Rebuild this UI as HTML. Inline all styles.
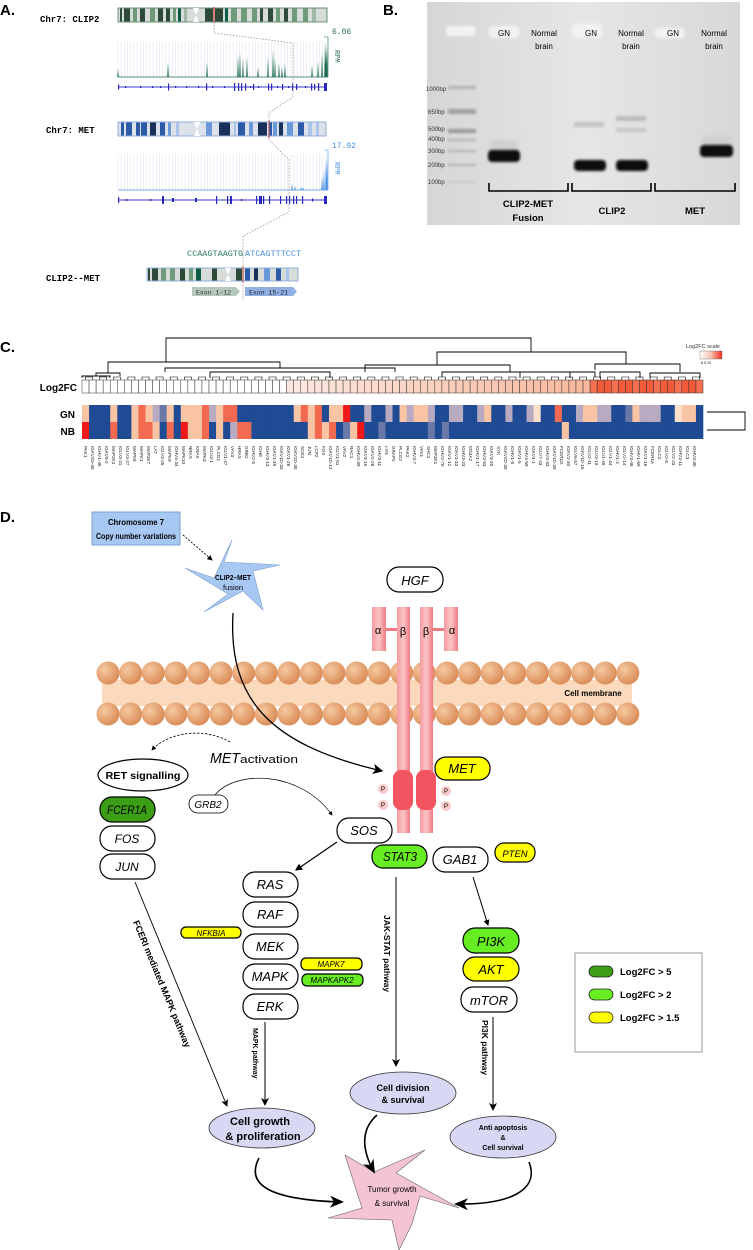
<!DOCTYPE html>
<html><head><meta charset="utf-8"><style>
html,body{margin:0;padding:0;background:#fff;}
svg{display:block;font-family:"Liberation Sans",sans-serif;}
.mono{font-family:"Liberation Mono",monospace;}
</style></head><body>
<svg id="s" width="753" height="1250" viewBox="0 0 753 1250" xmlns="http://www.w3.org/2000/svg">
<defs>
<radialGradient id="sph" cx="0.35" cy="0.35" r="0.7"><stop offset="0" stop-color="#f6c9a0"/><stop offset="1" stop-color="#d98a55"/></radialGradient>
<linearGradient id="beta" x1="0" x2="1"><stop offset="0" stop-color="#f59aa0"/><stop offset="0.5" stop-color="#fbc4c6"/><stop offset="1" stop-color="#f07a82"/></linearGradient>
<linearGradient id="gel" x1="0" x2="1"><stop offset="0" stop-color="#d6d6d6"/><stop offset="0.5" stop-color="#e6e6e6"/><stop offset="1" stop-color="#d8d8d8"/></linearGradient>
<linearGradient id="scl" x1="0" x2="1"><stop offset="0" stop-color="#fff"/><stop offset="0.5" stop-color="#f9c0b0"/><stop offset="1" stop-color="#f03020"/></linearGradient>
<filter id="blur" x="-30%" y="-80%" width="160%" height="260%"><feGaussianBlur stdDeviation="1.3"/></filter>
<filter id="blur2" x="-30%" y="-80%" width="160%" height="260%"><feGaussianBlur stdDeviation="2.5"/></filter>
<marker id="ah" markerWidth="8" markerHeight="8" refX="7" refY="4" orient="auto"><path d="M0,0 L8,4 L0,8 L2,4z" fill="#000"/></marker>
<marker id="ahs" markerWidth="6" markerHeight="6" refX="5" refY="3" orient="auto"><path d="M0,0 L6,3 L0,6z" fill="#000"/></marker>
<marker id="big" markerWidth="14" markerHeight="12" refX="12" refY="6" orient="auto" markerUnits="userSpaceOnUse"><path d="M0,0 L14,6 L0,12 L4,6z" fill="#000"/></marker>
</defs>

<!-- ===== Panel A ===== -->
<text x="0" y="15" font-size="15" font-weight="bold">A.</text>
<text x="40" y="22" class="mono" font-size="9" font-weight="bold">Chr7: CLIP2</text>
<g id="chrA"></g>
<text x="46" y="133" class="mono" font-size="9" font-weight="bold">Chr7: MET</text>
<text x="46" y="281" class="mono" font-size="9" font-weight="bold">CLIP2--MET</text>
<polyline points="214,22 214,33 293,43 293,97 269,113 269,140 289,160 289,212 243,236 243,300" fill="none" stroke="#888" stroke-width="0.7" stroke-dasharray="1.5,1.5"/>
<text x="332" y="34" class="mono" font-size="8" fill="#2e6e50">6.06</text>
<text x="335" y="50" class="mono" font-size="7" fill="#2e6e50" transform="rotate(90 335 50)">RPM</text>
<text x="332" y="148" class="mono" font-size="8" fill="#4a90e2">17.92</text>
<text x="335" y="162" class="mono" font-size="7" fill="#4a90e2" transform="rotate(90 335 162)">RPM</text>
<text x="187" y="256" class="mono" font-size="8.5" fill="#2e7d5e">CCAAGTAAGTG</text>
<text x="245" y="256" class="mono" font-size="8.5" fill="#4a90e2">ATCAGTTTCCT</text>
<polygon points="192,287 236,287 240,291.5 236,296 192,296" fill="#b4c8be"/>
<polygon points="245,287 293,287 297,291.5 293,296 245,296" fill="#8fb0e0"/>
<text x="196" y="294.5" class="mono" font-size="6.5" fill="#333">Exon 1-12</text>
<text x="249" y="294.5" class="mono" font-size="6.5" fill="#223">Exon 15-21</text>

<!-- ===== Panel B ===== -->
<text x="383" y="15" font-size="15" font-weight="bold">B.</text>
<rect x="427" y="2" width="313" height="223" fill="url(#gel)"/>
<g fill="#f2f2f2" filter="url(#blur)">
<rect x="446" y="26" width="30" height="10" rx="4"/><rect x="489" y="26" width="30" height="12" rx="4"/><rect x="572" y="24" width="30" height="14" rx="4"/><rect x="655" y="28" width="30" height="10" rx="4"/>
</g>
<g font-size="8" fill="#000" text-anchor="middle">
<text x="504" y="36">GN</text><text x="544" y="36">Normal</text><text x="544" y="49">brain</text>
<text x="591" y="36">GN</text><text x="631" y="36">Normal</text><text x="631" y="49">brain</text>
<text x="673" y="36">GN</text><text x="714" y="36">Normal</text><text x="714" y="49">brain</text>
</g>
<g font-size="6" fill="#333">
<text x="426" y="91">1000bp</text><text x="428" y="114">650bp</text><text x="428" y="131">500bp</text>
<text x="428" y="141">400bp</text><text x="428" y="153">300bp</text><text x="428" y="167">200bp</text><text x="428" y="184">100bp</text>
</g>
<g fill="#b0b0b0" filter="url(#blur)">
<rect x="448" y="86" width="28" height="3"/><rect x="448" y="109" width="28" height="5" fill="#a0a0a0"/><rect x="448" y="129" width="28" height="4" fill="#989898"/>
<rect x="448" y="139" width="28" height="2"/><rect x="448" y="150" width="28" height="2"/><rect x="448" y="164" width="28" height="2"/><rect x="448" y="181" width="28" height="2" fill="#c8c8c8"/>
<rect x="574" y="122" width="30" height="5" fill="#c4c4c4"/><rect x="616" y="116" width="30" height="5" fill="#bcbcbc"/><rect x="616" y="128" width="30" height="4" fill="#c6c6c6"/>
</g>
<g filter="url(#blur2)" fill="#cfcfcf"><rect x="490" y="140" width="28" height="14"/><rect x="702" y="136" width="30" height="12"/></g>
<g filter="url(#blur)" fill="#111">
<rect x="488" y="150" width="32" height="12" rx="4"/>
<rect x="574" y="160" width="32" height="11" rx="4"/>
<rect x="616" y="160" width="32" height="11" rx="4"/>
<rect x="700" y="145" width="33" height="12" rx="4"/>
</g>
<g fill="none" stroke="#000" stroke-width="1.6">
<polyline points="489,183 489,191 568,191 568,183"/><polyline points="572,183 572,191 651,191 651,183"/><polyline points="655,183 655,191 735,191 735,183"/>
</g>
<g font-size="9.5" font-weight="bold" text-anchor="middle">
<text x="528" y="207">CLIP2-MET</text><text x="528" y="221">Fusion</text><text x="612" y="214">CLIP2</text><text x="695" y="214">MET</text>
</g>

<!-- ===== Panel C ===== -->
<text x="0" y="352" font-size="15" font-weight="bold">C.</text>
<g fill="none" stroke="#000" stroke-width="0.9">
<polyline points="166,362 166,338 531,338 531,352"/>
<polyline points="108,373 108,362 280,362 280,368"/>
<polyline points="437,365 437,352 626,352 626,364"/>
<polyline points="96,376 96,373 120,373 120,376"/>
<polyline points="165,372 165,368 395,368 395,372"/>
<polyline points="365,372 365,365 510,365 510,372"/>
<polyline points="442,377 442,372 595,372 595,377"/>
<polyline points="595,370 595,364 680,364 680,372"/>
<polyline points="82,378 82,376 110,376 110,378"/>
<polyline points="210,378 210,372 330,372 330,378"/>
<polyline points="520,378 520,372 570,372 570,378"/>
<polyline points="600,378 600,372 640,372 640,378"/>
<polyline points="650,378 650,373 700,373 700,378"/>
</g>
<g id="dendsmall" stroke="#000" stroke-width="0.6"></g>
<text x="77" y="391" font-size="10" font-weight="bold" text-anchor="end">Log2FC</text>
<text x="75" y="418" font-size="10" font-weight="bold" text-anchor="end">GN</text>
<text x="75" y="435" font-size="10" font-weight="bold" text-anchor="end">NB</text>
<g id="fc"></g><g id="hm"></g>
<polyline points="707,412 745,412 745,430 707,430" fill="none" stroke="#000" stroke-width="0.9"/>
<text x="686" y="348" font-size="5.5" fill="#333">Log2FC scale</text>
<rect x="700" y="351" width="22" height="8" fill="url(#scl)" stroke="#666" stroke-width="0.4"/>
<text x="700" y="364" font-size="3.5">-5  0  10</text>

<!-- ===== Panel D ===== -->
<text x="0" y="522" font-size="15" font-weight="bold">D.</text>
<rect x="92" y="512" width="88" height="33" fill="#a8c8f4" stroke="#7f9fd0"/>
<text x="136" y="525" font-size="8" text-anchor="middle" font-weight="bold" textLength="56" lengthAdjust="spacingAndGlyphs">Chromosome 7</text>
<text x="136" y="539" font-size="8" text-anchor="middle" font-weight="bold" textLength="80" lengthAdjust="spacingAndGlyphs">Copy number variations</text>
<line x1="183" y1="535" x2="212" y2="560" stroke="#000" stroke-width="0.9" stroke-dasharray="2,1.5" marker-end="url(#ahs)"/>
<polygon points="232,540 224,562 280,565 253,571 263,610 243,591 204,612 228,594 185,568 214,578" fill="#a8c8f4" stroke="#7f9fd0" stroke-width="0.6"/>
<text x="233" y="580" font-size="7.5" font-weight="bold" text-anchor="middle" textLength="36" lengthAdjust="spacingAndGlyphs">CLIP2–MET</text>
<text x="233" y="590" font-size="7.5" text-anchor="middle">fusion</text>

<rect x="387" y="567" width="56" height="25" rx="12" fill="#fff" stroke="#000" stroke-width="1.2"/>
<text x="415" y="585" font-size="13" font-style="italic" text-anchor="middle">HGF</text>

<rect x="102" y="680" width="530" height="26" fill="#fbd9bd"/>
<g id="mem"></g>
<text x="593" y="696" font-size="8" font-weight="bold" text-anchor="middle">Cell membrane</text>

<rect x="372" y="607" width="14" height="44" fill="url(#beta)"/>
<rect x="444" y="607" width="14" height="44" fill="url(#beta)"/>
<rect x="397" y="607" width="13" height="226" fill="url(#beta)"/>
<rect x="420" y="607" width="13" height="226" fill="url(#beta)"/>
<rect x="386" y="628" width="11" height="3" fill="#f07a82"/>
<rect x="433" y="628" width="11" height="3" fill="#f07a82"/>
<g font-size="11" text-anchor="middle"><text x="378" y="634">α</text><text x="403" y="635">β</text><text x="426" y="635">β</text><text x="452" y="634">α</text></g>
<rect x="393" y="770" width="20" height="40" rx="8" fill="#f25560"/>
<rect x="416" y="770" width="20" height="40" rx="8" fill="#f25560"/>
<g fill="#f8c8c8"><circle cx="383" cy="789" r="5"/><circle cx="383" cy="805" r="5"/><circle cx="446" cy="791" r="5"/><circle cx="446" cy="806" r="5"/></g>
<g font-size="6" text-anchor="middle"><text x="383" y="791">P</text><text x="383" y="807">P</text><text x="446" y="793">P</text><text x="446" y="808">P</text></g>

<path d="M233,613 C228,700 270,745 382,771" fill="none" stroke="#000" stroke-width="1.3" marker-end="url(#ah)"/>
<path d="M230,742 C200,725 165,735 152,750" fill="none" stroke="#000" stroke-width="0.8" stroke-dasharray="2.5,1.5" marker-end="url(#ahs)"/>
<path d="M215,795 C235,770 300,770 332,815" fill="none" stroke="#000" stroke-width="0.7" marker-end="url(#ahs)"/>
<text x="210" y="763" font-size="15" font-style="italic" textLength="30" lengthAdjust="spacingAndGlyphs">MET</text>
<text x="240" y="763" font-size="11" textLength="58" lengthAdjust="spacingAndGlyphs">activation</text>

<ellipse cx="143" cy="775" rx="45" ry="16" fill="#fff" stroke="#000" stroke-width="1.2"/>
<text x="143" y="779" font-size="10" font-weight="bold" text-anchor="middle" textLength="75" lengthAdjust="spacingAndGlyphs">RET signalling</text>

<g stroke="#000" stroke-width="1.2" font-style="italic" text-anchor="middle">
<rect x="100" y="797" width="55" height="25" rx="12" fill="#3c9e14"/>
<rect x="100" y="826" width="55" height="25" rx="12" fill="#fff"/>
<rect x="100" y="854" width="55" height="25" rx="12" fill="#fff"/>
<rect x="189" y="795" width="39" height="18" rx="9" fill="#fff" stroke-width="0.8"/>
<rect x="337" y="818" width="55" height="25" rx="12" fill="#fff"/>
<rect x="435" y="757" width="55" height="23" rx="11" fill="#ffff00"/>
<rect x="372" y="845" width="55" height="23" rx="11" fill="#66ee22"/>
<rect x="433" y="847" width="55" height="25" rx="12" fill="#fff"/>
<rect x="495" y="843" width="40" height="19" rx="9" fill="#ffff00"/>
<rect x="243" y="872" width="55" height="25" rx="12" fill="#fff"/>
<rect x="243" y="902" width="55" height="25" rx="12" fill="#fff"/>
<rect x="243" y="934" width="55" height="25" rx="12" fill="#fff"/>
<rect x="243" y="964" width="55" height="25" rx="12" fill="#fff"/>
<rect x="243" y="994" width="55" height="25" rx="12" fill="#fff"/>
<rect x="181" y="927" width="60" height="11" rx="5" fill="#ffff00"/>
<rect x="301" y="958" width="61" height="12" rx="5" fill="#ffff00"/>
<rect x="302" y="974" width="61" height="12" rx="5" fill="#66ee22"/>
<rect x="463" y="928" width="56" height="25" rx="12" fill="#66ee22"/>
<rect x="463" y="957" width="56" height="24" rx="12" fill="#ffff00"/>
<rect x="461" y="987" width="56" height="25" rx="12" fill="#fff"/>
</g>
<g font-style="italic" text-anchor="middle" font-size="12">
<text x="127" y="814" textLength="40" lengthAdjust="spacingAndGlyphs">FCER1A</text>
<text x="127" y="843">FOS</text>
<text x="127" y="871">JUN</text>
<text x="208" y="808" font-size="10">GRB2</text>
<text x="364" y="835" font-size="13">SOS</text>
<text x="462" y="773" font-size="13">MET</text>
<text x="400" y="861" font-size="13" textLength="34" lengthAdjust="spacingAndGlyphs">STAT3</text>
<text x="460" y="864" font-size="13">GAB1</text>
<text x="515" y="857" font-size="9.5">PTEN</text>
<text x="270" y="889" font-size="13">RAS</text>
<text x="270" y="919" font-size="13">RAF</text>
<text x="270" y="951" font-size="13">MEK</text>
<text x="270" y="981" font-size="13">MAPK</text>
<text x="270" y="1011" font-size="13">ERK</text>
<text x="211" y="936" font-size="8">NFKBIA</text>
<text x="331" y="967" font-size="8">MAPK7</text>
<text x="332" y="983" font-size="8">MAPKAPK2</text>
<text x="491" y="946" font-size="13">PI3K</text>
<text x="491" y="974" font-size="13">AKT</text>
<text x="489" y="1005" font-size="13">mTOR</text>
</g>

<line x1="337" y1="842" x2="296" y2="870" stroke="#000" stroke-width="1.2" marker-end="url(#ahs)"/>
<line x1="396" y1="877" x2="396" y2="1066" stroke="#000" stroke-width="1" marker-end="url(#ah)"/>
<line x1="473" y1="877" x2="488" y2="925" stroke="#000" stroke-width="1" marker-end="url(#ahs)"/>
<line x1="493" y1="1017" x2="493" y2="1110" stroke="#000" stroke-width="1" marker-end="url(#ah)"/>
<line x1="265" y1="1022" x2="265" y2="1105" stroke="#000" stroke-width="1" marker-end="url(#ah)"/>
<line x1="135" y1="882" x2="227" y2="1106" stroke="#000" stroke-width="0.9" marker-end="url(#ah)"/>
<text x="384" y="915" font-size="8.5" font-weight="bold" transform="rotate(90 384 915)">JAK-STAT pathway</text>
<text x="482" y="1020" font-size="8.5" font-weight="bold" transform="rotate(90 482 1020)">PI3K pathway</text>
<text x="253" y="1028" font-size="7" font-weight="bold" transform="rotate(90 253 1028)">MAPK pathway</text>
<text x="133" y="922" font-size="9" font-weight="bold" transform="rotate(67.5 133 922)">FCERI mediated MAPK pathway</text>

<g fill="#d8d8f4" stroke="#333" stroke-width="0.8">
<ellipse cx="262" cy="1128" rx="53" ry="20"/>
<ellipse cx="403" cy="1093" rx="53" ry="21"/>
<ellipse cx="503" cy="1137" rx="53" ry="21"/>
</g>
<g text-anchor="middle" font-weight="bold">
<text x="260" y="1125" font-size="11">Cell growth</text>
<text x="263" y="1140" font-size="11">&amp; proliferation</text>
<text x="403" y="1091" font-size="9">Cell division</text>
<text x="403" y="1103" font-size="9">&amp; survival</text>
<text x="503" y="1130" font-size="7">Anti apoptosis</text>
<text x="503" y="1140" font-size="7">&amp;</text>
<text x="503" y="1150" font-size="7">Cell survival</text>
</g>
<polygon points="345,1155 374,1172 425,1150 396,1173 459,1208 420,1196 412,1224 399,1250 392,1220 328,1218 362,1208" fill="#f4c4d4" stroke="#666" stroke-width="0.6"/>
<text x="392" y="1192" font-size="8" text-anchor="middle">Tumor growth</text>
<text x="392" y="1206" font-size="8" text-anchor="middle">&amp; survival</text>
<g fill="none" stroke="#000" stroke-width="1.6">
<path d="M259,1158 C245,1185 270,1200 342,1202" marker-end="url(#big)"/>
<path d="M377,1115 C360,1130 362,1150 374,1172" marker-end="url(#big)"/>
<path d="M529,1162 C540,1190 510,1205 456,1204" marker-end="url(#big)"/>
</g>

<rect x="575" y="953" width="127" height="99" fill="#fff" stroke="#999"/>
<g stroke="#222" stroke-width="0.8">
<rect x="589" y="966" width="24" height="11" rx="5.5" fill="#3c9e14"/>
<rect x="589" y="989" width="24" height="11" rx="5.5" fill="#66ee22"/>
<rect x="589" y="1012" width="24" height="11" rx="5.5" fill="#ffff00"/>
</g>
<g font-size="9.5" font-weight="bold"><text x="620" y="975">Log2FC &gt; 5</text><text x="620" y="998">Log2FC &gt; 2</text><text x="620" y="1021">Log2FC &gt; 1.5</text></g>

<g font-size="4.6" fill="#222" id="genes">
<text transform="translate(84,446) rotate(90)">PAK1</text><text transform="translate(91,446) rotate(90)">IGKV2D-40</text><text transform="translate(98,446) rotate(90)">IGHV1-46</text><text transform="translate(105,446) rotate(90)">IGKV6-2</text><text transform="translate(112,446) rotate(90)">MAP2K4</text><text transform="translate(119,446) rotate(90)">IGLV3-21</text><text transform="translate(126,446) rotate(90)">IGLV3-27</text><text transform="translate(133,446) rotate(90)">MAPK8</text><text transform="translate(140,446) rotate(90)">MAPK1</text><text transform="translate(147,446) rotate(90)">MAP3K7</text>
<text transform="translate(154,446) rotate(90)">LAT</text><text transform="translate(161,446) rotate(90)">IGLV3-25</text><text transform="translate(168,446) rotate(90)">MAPK9</text><text transform="translate(175,446) rotate(90)">IGHV4-34</text><text transform="translate(182,446) rotate(90)">MAPK10</text><text transform="translate(189,446) rotate(90)">NRAS</text><text transform="translate(196,446) rotate(90)">KRAS</text><text transform="translate(203,446) rotate(90)">MAPK3</text><text transform="translate(210,446) rotate(90)">IGLV3-1</text><text transform="translate(217,446) rotate(90)">PLCG1</text>
<text transform="translate(224,446) rotate(90)">IGLV1-47</text><text transform="translate(231,446) rotate(90)">VAV3</text><text transform="translate(238,446) rotate(90)">HRAS</text><text transform="translate(245,446) rotate(90)">GRB2</text><text transform="translate(252,446) rotate(90)">IGHV2-5</text><text transform="translate(259,446) rotate(90)">IGHE</text><text transform="translate(266,446) rotate(90)">IGHV3-13</text><text transform="translate(273,446) rotate(90)">IGKV1-39</text><text transform="translate(280,446) rotate(90)">IGKV1D-33</text><text transform="translate(287,446) rotate(90)">IGKV1-28</text>
<text transform="translate(294,446) rotate(90)">IGKV2D-30</text><text transform="translate(301,446) rotate(90)">SOS1</text><text transform="translate(308,446) rotate(90)">JUN</text><text transform="translate(315,446) rotate(90)">LCP2</text><text transform="translate(322,446) rotate(90)">FOS</text><text transform="translate(329,446) rotate(90)">IGKV1D-12</text><text transform="translate(336,446) rotate(90)">IGLV1-51</text><text transform="translate(343,446) rotate(90)">VAV2</text><text transform="translate(350,446) rotate(90)">RAC1</text><text transform="translate(357,446) rotate(90)">IGHV4-39</text>
<text transform="translate(364,446) rotate(90)">IGKV3-15</text><text transform="translate(371,446) rotate(90)">IGKV2-28</text><text transform="translate(378,446) rotate(90)">IGHV3-11</text><text transform="translate(385,446) rotate(90)">LYN</text><text transform="translate(392,446) rotate(90)">GRAP2</text><text transform="translate(399,446) rotate(90)">PLCG2</text><text transform="translate(406,446) rotate(90)">PAK2</text><text transform="translate(413,446) rotate(90)">IGHV3-7</text><text transform="translate(420,446) rotate(90)">VAV1</text><text transform="translate(427,446) rotate(90)">SHC1</text>
<text transform="translate(434,446) rotate(90)">MAP3K1</text><text transform="translate(441,446) rotate(90)">IGHV2-70</text><text transform="translate(448,446) rotate(90)">IGKV1-12</text><text transform="translate(455,446) rotate(90)">IGKV1-33</text><text transform="translate(462,446) rotate(90)">IGHV3-23</text><text transform="translate(469,446) rotate(90)">MS4A2</text><text transform="translate(476,446) rotate(90)">IGHV1-17</text><text transform="translate(483,446) rotate(90)">IGHV3-53</text><text transform="translate(490,446) rotate(90)">IGKV3-20</text><text transform="translate(497,446) rotate(90)">SYK</text>
<text transform="translate(504,446) rotate(90)">IGKV2D-30</text><text transform="translate(511,446) rotate(90)">IGHV1-8</text><text transform="translate(518,446) rotate(90)">IGKV1-5</text><text transform="translate(525,446) rotate(90)">IGHV4-59</text><text transform="translate(532,446) rotate(90)">IGKV4-1</text><text transform="translate(539,446) rotate(90)">IGLV7-43</text><text transform="translate(546,446) rotate(90)">IGHV3-33</text><text transform="translate(553,446) rotate(90)">IGKV1D-39</text><text transform="translate(560,446) rotate(90)">FCER1G</text><text transform="translate(567,446) rotate(90)">IGKV2-30</text>
<text transform="translate(574,446) rotate(90)">IGLV6-57</text><text transform="translate(581,446) rotate(90)">IGKV1D-16</text><text transform="translate(588,446) rotate(90)">IGLV2-11</text><text transform="translate(595,446) rotate(90)">IGLV3-19</text><text transform="translate(602,446) rotate(90)">IGLV1-40</text><text transform="translate(609,446) rotate(90)">IGLV1-44</text><text transform="translate(616,446) rotate(90)">IGHV1-2</text><text transform="translate(623,446) rotate(90)">IGLV2-14</text><text transform="translate(630,446) rotate(90)">IGHV3-48</text><text transform="translate(637,446) rotate(90)">IGHV1-69</text>
<text transform="translate(644,446) rotate(90)">IGKV1-16</text><text transform="translate(651,446) rotate(90)">FCER1A</text><text transform="translate(658,446) rotate(90)">IGLC2</text><text transform="translate(665,446) rotate(90)">IGLV2-8</text><text transform="translate(672,446) rotate(90)">IGLV2-23</text><text transform="translate(679,446) rotate(90)">IGHV3-11</text><text transform="translate(686,446) rotate(90)">IGLC3</text><text transform="translate(693,446) rotate(90)">IGHV3-30</text>
</g>
</svg>
<script>
(function(){
var NS="http://www.w3.org/2000/svg";
function el(p,t,a){var e=document.createElementNS(NS,t);for(var k in a)e.setAttribute(k,a[k]);p.appendChild(e);return e;}
var g=document.getElementById('chrA');
function chrom(x0,x1,y,h,cen,bands,base,border){
 el(g,'rect',{x:x0,y:y,width:x1-x0,height:h,fill:base,stroke:border,'stroke-width':0.8});
 bands.forEach(function(b){el(g,'rect',{x:b[0],y:y+0.5,width:b[1],height:h-1,fill:b[2]});});
 if(cen)el(g,'polygon',{points:(cen-3)+','+y+' '+(cen+3)+','+y+' '+cen+','+(y+h/2)+' '+(cen+3)+','+(y+h)+' '+(cen-3)+','+(y+h)+' '+cen+','+(y+h/2),fill:'#fff'});
}
var G1='#2f4a38',G2='#6f9a7a',G3='#0a5c44',G4='#a0b8a6';
chrom(118,327,8,14,196,[[120,2,G1],[124,6,G1],[133,4,G2],[140,5,G1],[150,5,G2],[158,5,G1],[166,4,G1],[173,3,G2],[178,3,G3],[184,3,G4],[205,8,G1],[215,8,G1],[225,3,G3],[231,6,G2],[241,6,G2],[252,5,G2],[260,3,G1],[268,5,G1],[276,4,G2],[284,4,G1],[292,5,G2],[303,5,G2],[312,4,G4]],'#d8dcd8','#4a7a5a');
el(g,'line',{x1:214,y1:7,x2:214,y2:23,stroke:'#e02020','stroke-width':1});
var B1='#2a5aa8',B2='#18305a',B3='#6a98d8',B4='#aac4ec';
chrom(118,326,122,14,197,[[121,3,B1],[126,6,B1],[136,4,B1],[141,6,B1],[150,6,B2],[160,5,B1],[168,3,B3],[176,3,B4],[206,6,B3],[219,11,B2],[234,2,B4],[238,7,B1],[249,4,B3],[258,9,B2],[269,3,B1],[273,4,B3],[279,4,B2],[287,6,B3],[298,6,B1],[308,4,B4],[316,3,B4]],'#dde2ea','#7aa0d8');
el(g,'line',{x1:269,y1:120,x2:269,y2:138,stroke:'#e02020','stroke-width':1});
chrom(147,298,268,13,228,[[148,2,G1],[152,6,G1],[161,5,G2],[170,5,G2],[180,5,G1],[189,4,G2],[196,5,G3],[212,5,G1],[236,6,G1],[245,5,B1],[254,4,B2],[264,6,B3],[276,5,B1],[286,3,B4]],'#d8dcd8','#7aa0d8');
el(g,'line',{x1:243,y1:266,x2:243,y2:283,stroke:'#e02020','stroke-width':1});
function track(y0,y1,col,spikes){
 for(var x=118;x<327;x+=3.2)el(g,'line',{x1:x,y1:y0,x2:x,y2:y1,stroke:'#e4e4f2','stroke-width':0.6});
 el(g,'line',{x1:118,y1:y1,x2:328,y2:y1,stroke:col,'stroke-width':0.8});
 el(g,'polyline',{points:'324,'+(y0-5)+' 328,'+(y0-5)+' 328,'+y1,fill:'none',stroke:col,'stroke-width':0.6});
 spikes.forEach(function(s){el(g,'polygon',{points:(s[0]-0.8)+','+y1+' '+s[0]+','+(y1-s[1])+' '+(s[0]+0.8)+','+y1,fill:col});});
}
track(42,77,'#1e6e50',[[118,8],[168,15],[207,15],[238,22],[240,25],[243,18],[247,20],[258,10],[268,20],[273,28],[275,20],[279,14],[282,10],[285,14],[312,12],[318,16],[322,26],[325,33],[326,35],[327,30]]);
track(155,190,'#4a90e2',[[292,6],[295,4],[301,3],[303,3],[322,14],[324,22],[326,32],[327,32]]);
function gene(y,ex){el(g,'line',{x1:118,y1:y,x2:327,y2:y,stroke:'#3a3ad0','stroke-width':1});
 ex.forEach(function(e){el(g,'rect',{x:e[0],y:y-e[1]/2,width:e[2]||1.2,height:e[1],fill:'#2828c0'});});}
gene(87,[[118,5],[125,2],[140,2],[152,2],[160,2],[168,7],[175,2],[186,2],[198,2],[206,7],[212,2],[224,2],[234,8],[238,8],[241,8],[245,7],[250,2],[253,6],[258,2],[268,7],[271,7],[277,2],[282,6],[288,2],[292,7],[296,6],[305,2],[311,7],[314,6],[318,8],[324,8,3]]);
gene(200,[[118,6],[126,2],[150,2],[162,8,2],[172,4,2],[195,4,2],[216,8],[227,8],[230,8,2],[241,2],[256,8],[259,8,3],[263,8],[269,8],[280,8],[286,8],[289,8],[293,8],[296,8],[302,8],[312,3],[324,8,3]]);
var m=document.getElementById('mem');
for(var i=0;i<24;i++){var cx=108+i*22.6;
 el(m,'circle',{cx:cx,cy:673,r:11.5,fill:'url(#sph)'});
 el(m,'circle',{cx:cx,cy:714,r:11.5,fill:'url(#sph)'});}
var fc=document.getElementById('fc'),hm=document.getElementById('hm');
var N=88,w=(703-82)/N;
var C={B:'#1f4b94',R:'#f01818',r:'#f46a50',p:'#f9c4a4',q:'#fde0cc',g:'#b8aac0',m:'#6a78a8'};
var GN="pBBBpBBprpgmpBppprgprrBBBBBBBBprprBppRBBgBBgBpgppgBBggBBgpBBgBBgqBBrBBgppggBBmpgggBBqpp";
var NB="RBBBrBBprrpBrBRpprBpBgrrBBBBBBBBprprBmpRBBmBBBBBBmBmBBBBBBBBBBBBBBBBpBBBBBBBBBBBBBBBBBBB";
for(var i=0;i<N;i++){var x=82+i*w;
 var f;if(i<29)f='#ffffff';else if(i<72){var t=(i-29)/43;f='rgb('+Math.round(253-t*5)+','+Math.round(232-t*50)+','+Math.round(224-t*70)+')';}else{f=(i%3==0)?'#f47050':'#f25a3a';}
 el(fc,'rect',{x:x,y:380,width:w,height:13,fill:f,stroke:'#333','stroke-width':0.5});
 el(hm,'rect',{x:x,y:405,width:w+0.3,height:17,fill:C[GN[i]]||'#1f4b94'});
 el(hm,'rect',{x:x,y:422,width:w+0.3,height:17,fill:C[NB[i]]||'#1f4b94'});}
var d=document.getElementById('dendsmall');
for(var i=0;i<N;i+=2){var x=82+i*w+w/2;el(d,'polyline',{points:x+',380 '+x+',377 '+(x+w)+',377 '+(x+w)+',380',fill:'none'});}
})();
</script>
</body></html>
